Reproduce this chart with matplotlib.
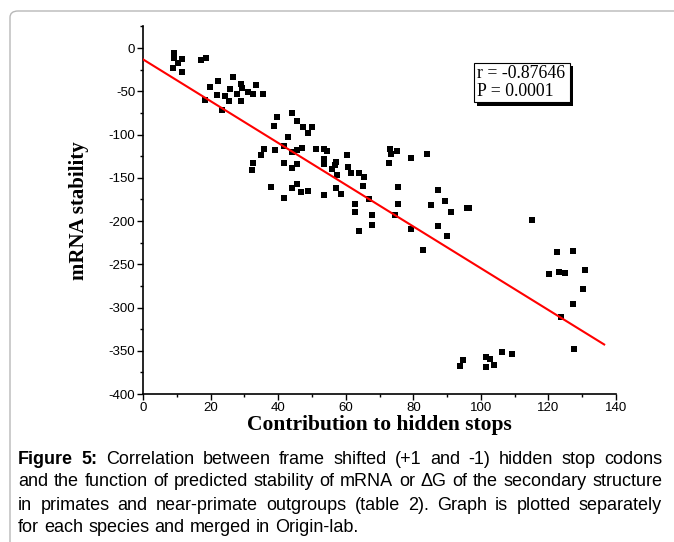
import matplotlib
matplotlib.use("Agg")
import matplotlib.pyplot as plt
from matplotlib.patches import Rectangle, FancyBboxPatch
from matplotlib.ticker import MultipleLocator
import numpy as np

# points: contribution to hidden stops vs mRNA stability
hidden_stops = [
    9.2, 9.3, 11.6, 10.5, 9.0, 11.5, 17.2, 18.5,
    22.3, 26.7, 19.8, 28.9, 25.7, 29.2, 33.3, 22.0, 24.3, 27.7, 31.2, 32.6, 35.4,
    18.3, 25.5, 29.0, 23.3,
    39.6, 44.0, 38.8, 45.5, 47.4, 49.9, 48.9, 43.0,
    41.8, 39.1, 35.8, 34.8, 32.5, 32.2, 44.0, 45.5, 47.0, 51.2, 53.6, 54.5, 53.7,
    53.7, 57.0, 56.8, 55.8, 57.3, 60.5, 60.8, 61.5, 64.0, 65.4, 65.2, 41.8, 44.2,
    45.5, 37.9, 41.8, 44.2, 45.5, 46.7, 48.9, 53.6, 57.0, 58.7, 62.8, 62.8, 66.8,
    67.7, 67.7, 63.8,
    73.0, 73.5, 75.2, 72.9, 79.3, 84.0, 75.4, 75.6, 74.6, 79.3, 87.2, 89.4, 85.1,
    91.1, 87.4, 89.9, 95.8, 96.6, 83.0,
    115.2, 122.6, 127.2, 120.2, 123.1, 124.9, 130.8, 130.3, 127.2, 123.7, 127.6,
    94.8, 93.8, 101.5, 102.7, 101.5, 103.9, 106.2, 109.1,
]
mrna_stability = [
    -6, -11, -13, -17, -23, -28, -14, -11,
    -38, -34, -45.5, -41.5, -47.5, -46.5, -43, -54.5, -55, -53, -50.5, -53.5, -53,
    -60, -61.3, -61, -71.7,
    -79.4, -75.5, -89.8, -84.4, -91, -91, -98.6, -103,
    -113.3, -118, -117, -123.7, -133.3, -141, -120, -118, -116, -117, -117, -118.7,
    -128.7, -134, -131.4, -135.3, -140, -146.8, -123.7, -137.2, -144.2, -144.2,
    -149.5, -159.2, -133.3, -138.4, -134, -160.7, -173.8, -162.2, -157.2, -166,
    -165, -170, -162.2, -169, -180, -190, -174.6, -193, -204.6, -211,
    -117, -123, -119, -132.6, -127.6, -122.5, -161, -180.7, -193, -209.2, -163.8,
    -176.3, -182, -189.8, -205.8, -217.3, -184.6, -185.4, -233.5,
    -198.8, -235.5, -234.7, -261.6, -258.6, -259.7, -256.6, -279, -296, -310.6,
    -348,
    -360.7, -367.6, -357, -360, -368.4, -366.5, -351.2, -354.3,
]

# fitted line as drawn in the figure
fit_intercept = -13.1
fit_slope = -2.415
fit_x = [0, 136.5]

stats_lines = ["r = -0.87646", "P = 0.0001"]
x_ticks = [0, 20, 40, 60, 80, 100, 120, 140]
y_ticks = [0, -50, -100, -150, -200, -250, -300, -350, -400]

caption = [
    ("Figure 5:", "Correlation between frame shifted (+1 and -1) hidden stop codons"),
    ("", "and the function of predicted stability of mRNA or \u0394G of the secondary structure"),
    ("", "in primates and near-primate outgroups (table 2). Graph is plotted separately"),
    ("", "for each species and merged in Origin-lab."),
]

W, H = 674, 542
plt.rcParams["axes.unicode_minus"] = False
fig = plt.figure(figsize=(W / 100, H / 100), dpi=100)
fig.patch.set_facecolor("white")


def fx(px):
    return px / W


def fy(py):
    return 1 - py / H


# outer rounded frame
frame = FancyBboxPatch((fx(10), fy(600)), fx(720), (600 - 11) / H,
                       boxstyle="round,pad=0,rounding_size=0.012",
                       transform=fig.transFigure, fill=False,
                       edgecolor="#b8b8b8", lw=1.0)
fig.patches.append(frame)

ax = fig.add_axes([fx(143), fy(394), (616 - 143) / W, (394 - 26.4) / H])
ax.scatter(hidden_stops, mrna_stability, marker="s", s=20, c="black",
           linewidths=0, zorder=3)
xs = np.array(fit_x)
ax.plot(xs, fit_intercept + fit_slope * xs, color="red", lw=1.5, zorder=4)

ax.set_xlim(0, 140)
ax.set_ylim(-400, 25)
ax.set_xticks(x_ticks)
ax.set_yticks(y_ticks)
ax.xaxis.set_minor_locator(MultipleLocator(10))
ax.yaxis.set_minor_locator(MultipleLocator(25))
ax.spines["top"].set_visible(False)
ax.spines["right"].set_visible(False)
for s in ["left", "bottom"]:
    ax.spines[s].set_linewidth(1.2)
ax.tick_params(which="major", direction="out", length=4, width=1,
               labelsize=9.5, pad=1.5)
ax.tick_params(which="minor", direction="out", length=2.5, width=1)
for lab in ax.get_xticklabels() + ax.get_yticklabels():
    lab.set_family("Liberation Sans")

ax.set_xlabel("Contribution to hidden stops", family="Liberation Serif",
              fontweight="bold", fontsize=15.5, labelpad=1)
ax.set_ylabel("mRNA stability", family="Liberation Serif",
              fontweight="bold", fontsize=15, labelpad=14)

# stats box with shadow
fig.patches.append(Rectangle((fx(477), fy(106)), (573 - 477) / W, (106 - 66) / H,
                             transform=fig.transFigure, facecolor="black",
                             edgecolor="none", zorder=5))
fig.patches.append(Rectangle((fx(474), fy(102)), (570 - 474) / W, (102 - 63) / H,
                             transform=fig.transFigure, facecolor="white",
                             edgecolor="black", lw=0.8, zorder=6))
for i, line in enumerate(stats_lines):
    fig.text(fx(477), fy(74 + i * 18), line, family="Liberation Serif",
             fontsize=12.8, va="center", ha="left", zorder=7)

# justified caption
renderer = fig.canvas.get_renderer()
x_left, x_right = 18, 662
cap_size = 13
for i, (bold, rest) in enumerate(caption):
    yline = fy(459 + i * 23)
    words = [(w, "bold") for w in bold.split()] + [(w, "normal") for w in rest.split()]
    texts = []
    for w, weight in words:
        t = fig.text(0, yline, w, family="Liberation Sans", fontsize=cap_size,
                     fontweight=weight, va="center", ha="left")
        texts.append(t)
    widths = [t.get_window_extent(renderer).width for t in texts]
    last = i == len(caption) - 1
    if last:
        gap = cap_size * 0.278 * 100 / 72
    else:
        gap = (x_right - x_left - sum(widths)) / (len(texts) - 1)
    x = x_left
    for t, w in zip(texts, widths):
        t.set_x(fx(x))
        x += w + gap

fig.savefig("out.png", dpi=100)
